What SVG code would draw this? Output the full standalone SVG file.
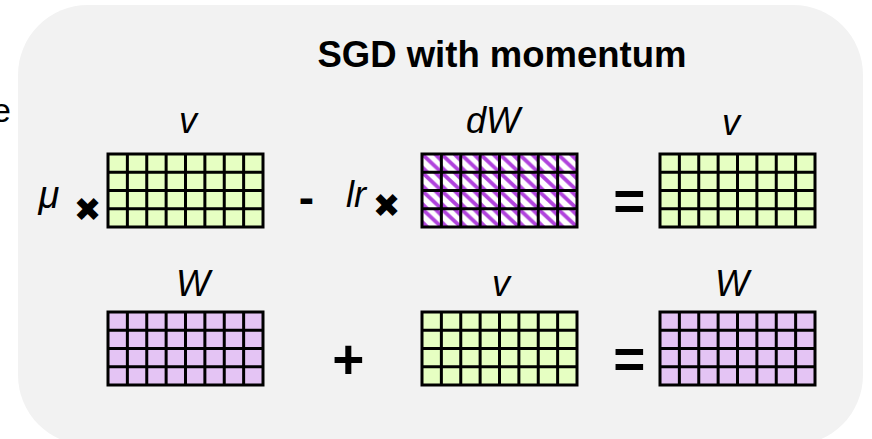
<svg xmlns="http://www.w3.org/2000/svg" xmlns:xlink="http://www.w3.org/1999/xlink" width="872" height="439" viewBox="0 0 872 439">
<style>
.lbl{font-family:"Liberation Sans",Arial,sans-serif;font-style:italic;font-size:36px;fill:#000;text-anchor:middle}
.op{font-family:"Liberation Sans",Arial,sans-serif;font-weight:bold;fill:#000;text-anchor:middle}
.mul{font-family:"DejaVu Sans",sans-serif;font-size:33px;fill:#000;text-anchor:middle}
.title{font-family:"Liberation Sans",Arial,sans-serif;font-weight:bold;font-size:36.5px;fill:#000;text-anchor:middle}
.gl{fill:none;stroke:#000;stroke-width:3}
.green{fill:#e6ffc2}
.purple{fill:#e4c4f4}
</style>
<defs>
<g id="grid">
<path class="gl" d="M19.375 0V73M38.75 0V73M58.125 0V73M77.5 0V73M96.875 0V73M116.25 0V73M135.625 0V73M0 18.25H155M0 36.5H155M0 54.75H155"/>
<rect class="gl" x="0" y="0" width="155" height="73"/>
</g>
<pattern id="hatch" patternUnits="userSpaceOnUse" x="422" y="154" width="19.375" height="18.25">
<rect width="19.375" height="18.25" fill="#fff"/>
<path d="M-2 -1.9L21.4 20.1M11 -2L22 9M-2 11L9 22" stroke="#b043dc" stroke-width="3.8" fill="none"/>
</pattern>
</defs>
<rect x="-1" y="-1" width="874" height="441" fill="#fff"/>
<rect id="panel" x="18" y="5" width="845" height="440" rx="70" ry="70" fill="#f2f2f2"/>
<text x="11" y="121.5" style="font-family:'Liberation Sans',Arial,sans-serif;font-size:34px;text-anchor:end">e</text>
<text class="title" x="502" y="67">SGD with momentum</text>

<g id="mu-label"><text class="lbl" style="font-size:38px" x="49" y="208">μ</text></g>
<g id="mul1"><text class="mul" x="87.5" y="221">✖</text></g>
<g id="v-top-left">
<text class="lbl" x="188" y="133">v</text>
<rect class="green" x="108" y="154" width="155" height="73"/>
<use xlink:href="#grid" x="108" y="154"/>
</g>
<g id="minus"><text class="op" style="font-size:46px" x="306.5" y="213">-</text></g>
<g id="lr-label"><text class="lbl" x="356" y="207">lr</text></g>
<g id="mul2"><text class="mul" x="386.7" y="216.6">✖</text></g>
<g id="dW">
<text class="lbl" x="493" y="133">dW</text>
<rect fill="url(#hatch)" x="422" y="154" width="155" height="73"/>
<use xlink:href="#grid" x="422" y="154"/>
</g>
<g id="eq-top"><text class="op" style="font-size:55px" x="629.3" y="219.5">=</text></g>
<g id="v-top-right">
<text class="lbl" x="731" y="135">v</text>
<rect class="green" x="660" y="154" width="155" height="73"/>
<use xlink:href="#grid" x="660" y="154"/>
</g>

<g id="W-bottom-left">
<text class="lbl" x="193" y="296">W</text>
<rect class="purple" x="108" y="312" width="155" height="73"/>
<use xlink:href="#grid" x="108" y="312"/>
</g>
<g id="plus"><text class="op" style="font-size:55px" x="348.4" y="377.6">+</text></g>
<g id="v-bottom">
<text class="lbl" x="501" y="296">v</text>
<rect class="green" x="422" y="312" width="155" height="73"/>
<use xlink:href="#grid" x="422" y="312"/>
</g>
<g id="eq-bottom"><text class="op" style="font-size:55px" x="629.3" y="378">=</text></g>
<g id="W-bottom-right">
<text class="lbl" x="732" y="296">W</text>
<rect class="purple" x="660" y="312" width="155" height="73"/>
<use xlink:href="#grid" x="660" y="312"/>
</g>
</svg>
